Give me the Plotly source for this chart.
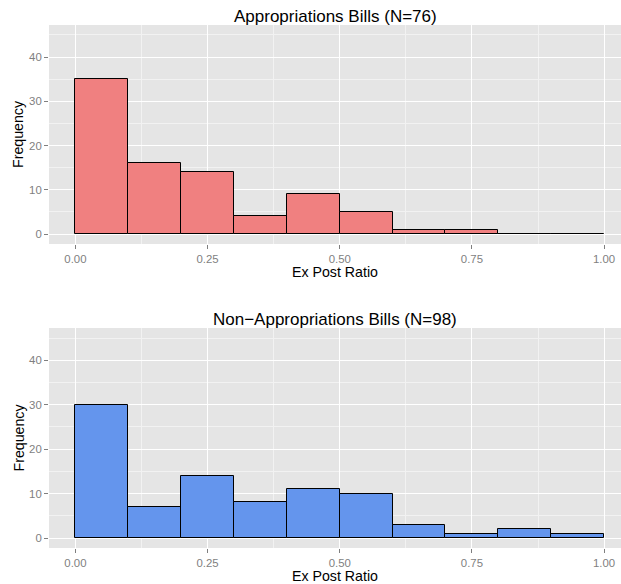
import plotly.graph_objects as go

bin_left = [0.0, 0.1, 0.2, 0.3, 0.4, 0.5, 0.6, 0.7, 0.8, 0.9]
bin_width = 0.1
approp_counts = [35, 16, 14, 4, 9, 5, 1, 1, 0, 0]
nonapprop_counts = [30, 7, 14, 8, 11, 10, 3, 1, 2, 1]
x_ticks = [0.0, 0.25, 0.5, 0.75, 1.0]
x_tick_labels = ["0.00", "0.25", "0.50", "0.75", "1.00"]
y_ticks = [0, 10, 20, 30, 40]
titles = ["Appropriations Bills (N=76)", "Non\u2212Appropriations Bills (N=98)"]
colors = ["#F08080", "#6495ED"]

centers = [b + bin_width / 2 for b in bin_left]

fig = go.Figure()
fig.add_trace(go.Bar(x=centers, y=approp_counts, width=bin_width,
                     marker=dict(color=colors[0], line=dict(color="black", width=1)),
                     xaxis="x", yaxis="y", showlegend=False))
fig.add_trace(go.Bar(x=centers, y=nonapprop_counts, width=bin_width,
                     marker=dict(color=colors[1], line=dict(color="black", width=1)),
                     xaxis="x2", yaxis="y2", showlegend=False))

W, H = 621, 584
ml, mr, mt, mb = 49, 0, 25, 36
ph = H - mt - mb
top_dom = [(H - mb - 244) / ph, 1.0]
bot_dom = [0.0, (H - mb - 328) / ph]

grid = dict(showgrid=True, gridcolor="white", gridwidth=1.2, zeroline=False,
            ticks="outside", ticklen=4, tickcolor="#7F7F7F", tickwidth=1,
            tickfont=dict(family="Liberation Sans, Arial", size=11.4, color="#7F7F7F"),
            showline=False)
xcommon = dict(grid, range=[-0.05, 1.032], tickvals=x_ticks, ticktext=x_tick_labels,
               minor=dict(dtick=0.125, tick0=0.125, showgrid=True, gridcolor="#F2F2F2", gridwidth=0.6, ticks=""))
ycommon = dict(grid, range=[-2.25, 47.25], tickvals=y_ticks,
               minor=dict(dtick=10, tick0=5, showgrid=True, gridcolor="#F2F2F2", gridwidth=0.6, ticks=""))

fig.update_layout(
    width=W, height=H,
    margin=dict(l=ml, r=mr, t=mt, b=mb, pad=0),
    paper_bgcolor="white", plot_bgcolor="#E5E5E5",
    bargap=0,
    xaxis=dict(xcommon, domain=[0, 1], anchor="y"),
    yaxis=dict(ycommon, domain=top_dom, anchor="x"),
    xaxis2=dict(xcommon, domain=[0, 1], anchor="y2"),
    yaxis2=dict(ycommon, domain=bot_dom, anchor="x2"),
    font=dict(family="Liberation Sans, Arial"),
)

ann = []
for dom, t in zip([top_dom, bot_dom], titles):
    ann.append(dict(text=t, x=0.5, xref="paper", y=dom[1], yref="paper", yshift=9,
                    xanchor="center", yanchor="middle", showarrow=False,
                    font=dict(size=17, color="black")))
    ann.append(dict(text="Ex Post Ratio", x=0.5, xref="paper", y=dom[0], yref="paper", yshift=-28,
                    xanchor="center", yanchor="middle", showarrow=False,
                    font=dict(size=14.2, color="black")))
    ann.append(dict(text="Frequency", x=0, xref="paper", xshift=-30.5,
                    y=(dom[0] + dom[1]) / 2, yref="paper",
                    xanchor="center", yanchor="middle", textangle=-90, showarrow=False,
                    font=dict(size=14.2, color="black")))
fig.update_layout(annotations=ann)

fig.write_html("out.html")
